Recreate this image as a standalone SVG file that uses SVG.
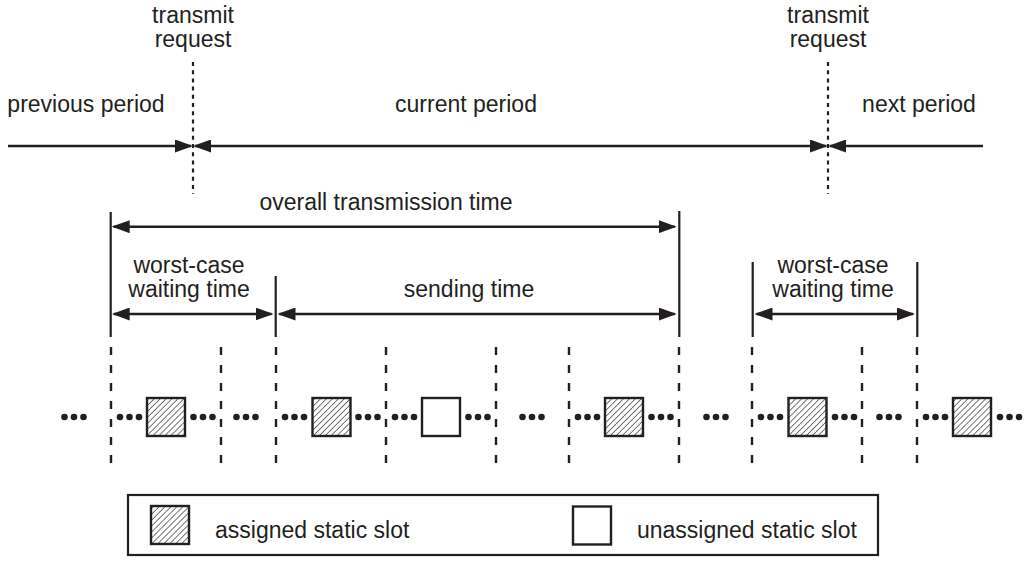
<svg xmlns="http://www.w3.org/2000/svg" width="1026" height="562" viewBox="0 0 1026 562">
<style>
  text { font-family: "Liberation Sans", Arial, Helvetica, sans-serif; font-size: 23px; fill: #231f20; }
  .mid { text-anchor: middle; }
  .ln { stroke: #231f20; stroke-width: 2.5; fill: none; }
  .vl { stroke: #231f20; stroke-width: 2.2; fill: none; }
  .dot { stroke: #231f20; stroke-width: 2.2; stroke-dasharray: 4 4.2; fill: none; }
  .dash { stroke: #231f20; stroke-width: 2.4; stroke-dasharray: 8 10; fill: none; }
  .hatch { fill: url(#hatch); stroke: #231f20; stroke-width: 2.4; }
  .empty { fill: #ffffff; stroke: #231f20; stroke-width: 2.4; }
  .ell { fill: #231f20; }
</style>
<defs>
  <marker id="ah" markerUnits="userSpaceOnUse" markerWidth="18" markerHeight="13" refX="16" refY="6.5" orient="auto-start-reverse" viewBox="0 0 18 13">
    <path d="M0,0 L18,6.5 L0,13 z" fill="#231f20"/>
  </marker>
  <pattern id="hatch" patternUnits="userSpaceOnUse" width="4.2" height="4.2" patternTransform="rotate(45)">
    <rect width="4.2" height="4.2" fill="#ffffff"/>
    <line x1="0" y1="0" x2="0" y2="4.2" stroke="#4a4a4a" stroke-width="1.5"/>
  </pattern>
  <g id="ellipsis">
    <circle cx="-9.5" cy="0" r="3.3"/>
    <circle cx="0" cy="0" r="3.3"/>
    <circle cx="9.5" cy="0" r="3.3"/>
  </g>
</defs>
<rect width="1026" height="562" fill="#ffffff"/>

<g id="labels-top">
  <text class="mid" x="193" y="23">transmit</text>
  <text class="mid" x="193" y="47">request</text>
  <text class="mid" x="828" y="23">transmit</text>
  <text class="mid" x="828" y="47">request</text>
  <text class="mid" x="86" y="112">previous period</text>
  <text class="mid" x="466" y="112">current period</text>
  <text class="mid" x="919" y="112">next period</text>
</g>

<g id="request-markers">
  <line class="dot" x1="193" y1="62" x2="193" y2="194"/>
  <line class="dot" x1="828" y1="62" x2="828" y2="194"/>
</g>

<g id="timing-bounds">
  <line class="vl" x1="110.7" y1="212" x2="110.7" y2="337"/>
  <line class="vl" x1="275.7" y1="276" x2="275.7" y2="337"/>
  <line class="vl" x1="679.3" y1="211" x2="679.3" y2="337"/>
  <line class="vl" x1="752.7" y1="262" x2="752.7" y2="337"/>
  <line class="vl" x1="917.3" y1="262" x2="917.3" y2="337"/>
</g>

<g id="timing-labels">
  <text class="mid" x="386" y="210">overall transmission time</text>
  <text class="mid" x="189" y="273">worst-case</text>
  <text class="mid" x="189" y="297">waiting time</text>
  <text class="mid" x="469" y="297">sending time</text>
  <text class="mid" x="833" y="273">worst-case</text>
  <text class="mid" x="833" y="297">waiting time</text>
</g>

<g id="connectors">
  <line class="ln" x1="8" y1="146" x2="191" y2="146" marker-end="url(#ah)"/>
  <line class="ln" x1="195" y1="146" x2="826" y2="146" marker-start="url(#ah)" marker-end="url(#ah)"/>
  <line class="ln" x1="830" y1="146" x2="983" y2="146" marker-start="url(#ah)"/>
  <line class="ln" x1="113.7" y1="226.7" x2="674.7" y2="226.7" marker-start="url(#ah)" marker-end="url(#ah)"/>
  <line class="ln" x1="113.7" y1="314" x2="271.5" y2="314" marker-start="url(#ah)" marker-end="url(#ah)"/>
  <line class="ln" x1="279.5" y1="314" x2="674.7" y2="314" marker-start="url(#ah)" marker-end="url(#ah)"/>
  <line class="ln" x1="756.5" y1="314" x2="913" y2="314" marker-start="url(#ah)" marker-end="url(#ah)"/>
</g>

<g id="slot-boundaries">
  <line class="dash" x1="111" y1="347" x2="111" y2="465"/>
  <line class="dash" x1="221" y1="347" x2="221" y2="465"/>
  <line class="dash" x1="276" y1="347" x2="276" y2="465"/>
  <line class="dash" x1="386" y1="347" x2="386" y2="465"/>
  <line class="dash" x1="496" y1="347" x2="496" y2="465"/>
  <line class="dash" x1="569" y1="347" x2="569" y2="465"/>
  <line class="dash" x1="679" y1="347" x2="679" y2="465"/>
  <line class="dash" x1="752" y1="347" x2="752" y2="465"/>
  <line class="dash" x1="862" y1="347" x2="862" y2="465"/>
  <line class="dash" x1="917" y1="347" x2="917" y2="465"/>
</g>

<g id="ellipses" class="ell">
  <use href="#ellipsis" x="74" y="417"/>
  <use href="#ellipsis" x="129.5" y="417"/>
  <use href="#ellipsis" x="203" y="417"/>
  <use href="#ellipsis" x="246" y="417"/>
  <use href="#ellipsis" x="294.5" y="417"/>
  <use href="#ellipsis" x="368" y="417"/>
  <use href="#ellipsis" x="404.5" y="417"/>
  <use href="#ellipsis" x="478" y="417"/>
  <use href="#ellipsis" x="532" y="417"/>
  <use href="#ellipsis" x="587.5" y="417"/>
  <use href="#ellipsis" x="661" y="417"/>
  <use href="#ellipsis" x="716" y="417"/>
  <use href="#ellipsis" x="770.5" y="417"/>
  <use href="#ellipsis" x="844.5" y="417"/>
  <use href="#ellipsis" x="889" y="417"/>
  <use href="#ellipsis" x="935.5" y="417"/>
  <use href="#ellipsis" x="1009.5" y="417"/>
</g>

<g id="slot-1"><rect class="hatch" x="147" y="398" width="38" height="38"/></g>
<g id="slot-2"><rect class="hatch" x="312.5" y="398" width="38" height="38"/></g>
<g id="slot-3"><rect class="empty" x="422" y="398" width="38" height="38"/></g>
<g id="slot-4"><rect class="hatch" x="605" y="398" width="38" height="38"/></g>
<g id="slot-5"><rect class="hatch" x="788.5" y="398" width="38" height="38"/></g>
<g id="slot-6"><rect class="hatch" x="953" y="398" width="38" height="38"/></g>

<g id="legend">
  <rect x="128" y="495" width="750" height="60" fill="#ffffff" stroke="#231f20" stroke-width="2.2"/>
  <rect class="hatch" x="151" y="506" width="38" height="38"/>
  <text x="215" y="538">assigned static slot</text>
  <rect class="empty" x="573" y="506.5" width="38" height="38"/>
  <text x="637" y="538">unassigned static slot</text>
</g>
</svg>
